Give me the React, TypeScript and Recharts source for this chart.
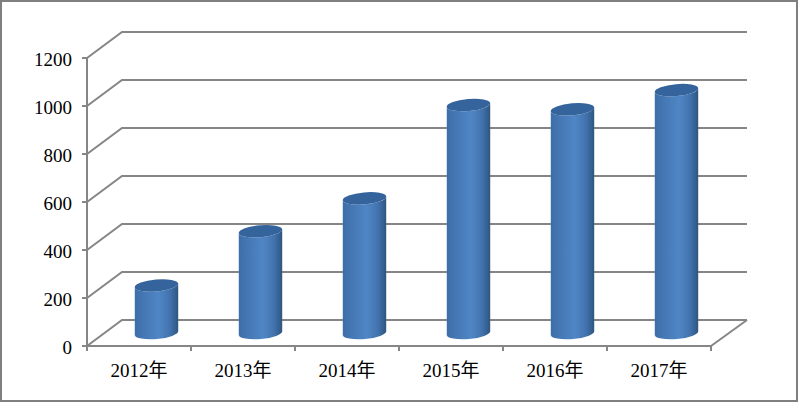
import { BarChart, Bar, XAxis, YAxis, CartesianGrid } from "recharts";

const years = ["2012年", "2013年", "2014年", "2015年", "2016年", "2017年"];
const amounts = [198, 424, 561, 950, 932, 1012];
const yTicks = [0, 200, 400, 600, 800, 1000, 1200];

const W = 798;
const H = 402;
const PLOT_LEFT = 87;
const PLOT_RIGHT = 711;
const PLOT_TOP = 58;
const PLOT_BOTTOM = 346;
const DEPTH_X = 35;
const DEPTH_Y = 26;
const BACK_RIGHT = 747;
const BAND = (PLOT_RIGHT - PLOT_LEFT) / years.length;

const AXIS_COLOR = "#868686";
const FONT = "'Liberation Serif', 'Noto Sans CJK TC', serif";

const chartData = years.map((year, i) => ({ year, amount: amounts[i] }));

// grid line runs up the side wall and then along the back wall
function WallLine({ y1 }: any) {
  const back = y1 - DEPTH_Y;
  return (
    <polyline
      points={`${PLOT_LEFT},${y1} ${PLOT_LEFT + DEPTH_X},${back} ${BACK_RIGHT},${back}`}
      fill="none"
      stroke={AXIS_COLOR}
      strokeWidth={2}
    />
  );
}

// cylinder sits halfway into the floor, so shift it by half the depth
function Cylinder({ x, y, width, height }: any) {
  const rx = width / 2 + 0.3;
  const ry = 6;
  const tilt = -5;
  const cx = x + width / 2 + DEPTH_X / 2 - 0.5;
  const top = y - DEPTH_Y / 2;
  const bottom = top + height;
  const dx = rx * Math.cos((tilt * Math.PI) / 180);
  const dy = rx * Math.sin((tilt * Math.PI) / 180);
  const body = [
    `M ${cx - dx} ${top - dy}`,
    `L ${cx - dx} ${bottom - dy}`,
    `A ${rx} ${ry} ${tilt} 0 0 ${cx + dx} ${bottom + dy}`,
    `L ${cx + dx} ${top + dy}`,
    `A ${rx} ${ry} ${tilt} 0 1 ${cx - dx} ${top - dy}`,
    "Z",
  ].join(" ");
  return (
    <g>
      <path d={body} fill="url(#cylinderBody)" />
      <ellipse
        cx={cx}
        cy={top}
        rx={rx}
        ry={ry}
        fill="#35649c"
        transform={`rotate(${tilt} ${cx} ${top})`}
      />
    </g>
  );
}

// ticks sit on the category boundaries, labels in the middle
function YearTick({ x, payload, index }: any) {
  const tickY = PLOT_BOTTOM;
  const left = x - BAND / 2;
  return (
    <g>
      <line x1={left} x2={left} y1={tickY} y2={tickY + 5} stroke={AXIS_COLOR} strokeWidth={2} />
      {index === years.length - 1 && (
        <line x1={left + BAND} x2={left + BAND} y1={tickY} y2={tickY + 5} stroke={AXIS_COLOR} strokeWidth={2} />
      )}
      <text x={x} y={tickY + 31} textAnchor="middle" fontFamily={FONT} fontSize={19} fill="#000">
        {payload.value}
      </text>
    </g>
  );
}

export default function App() {
  return (
    <div style={{ position: "absolute", left: 0, top: 0, width: W, height: H, background: "#fff" }}>
      <BarChart
        width={W}
        height={H}
        data={chartData}
        margin={{ top: PLOT_TOP, right: W - PLOT_RIGHT, bottom: 0, left: 0 }}
        barSize={43}
      >
        <defs>
          <linearGradient id="cylinderBody" x1="0" y1="0" x2="1" y2="0">
            <stop offset="0%" stopColor="#3d6ea8" />
            <stop offset="55%" stopColor="#5086c6" />
            <stop offset="82%" stopColor="#4172ac" />
            <stop offset="100%" stopColor="#2d5580" />
          </linearGradient>
        </defs>
        <CartesianGrid horizontal={(props: any) => <WallLine key={props.key} {...props} />} vertical={false} />
        <XAxis
          dataKey="year"
          height={H - PLOT_BOTTOM}
          axisLine={{ stroke: AXIS_COLOR, strokeWidth: 2 }}
          tickLine={false}
          interval={0}
          tick={<YearTick />}
        />
        <YAxis
          width={PLOT_LEFT}
          domain={[0, 1200]}
          ticks={yTicks}
          interval={0}
          axisLine={{ stroke: AXIS_COLOR, strokeWidth: 2 }}
          tickLine={{ stroke: AXIS_COLOR, strokeWidth: 2 }}
          tickSize={5}
          tickMargin={10}
          tick={{ fill: "#000", fontSize: 19, fontFamily: FONT, dy: 1.5 }}
        />
        {/* closing edge of the floor on the right */}
        <polyline
          points={`${PLOT_RIGHT},${PLOT_BOTTOM} ${BACK_RIGHT},${PLOT_BOTTOM - DEPTH_Y}`}
          fill="none"
          stroke={AXIS_COLOR}
          strokeWidth={2}
        />
        <Bar dataKey="amount" shape={<Cylinder />} isAnimationActive={false} />
      </BarChart>
      <div
        style={{
          position: "absolute",
          inset: 0,
          border: "2px solid #7f7f7f",
          boxSizing: "border-box",
          pointerEvents: "none",
        }}
      />
    </div>
  );
}
